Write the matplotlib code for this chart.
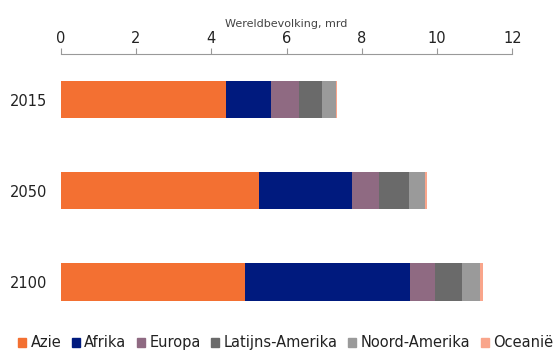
import matplotlib.pyplot as plt
from matplotlib.patches import Patch

years = ['2015', '2050', '2100']
regions = ['Azie', 'Afrika', 'Europa', 'Latijns-Amerika', 'Noord-Amerika', 'Oceanië']
azie = [4.39, 5.27, 4.89]
afrika = [1.19, 2.48, 4.39]
europa = [0.74, 0.71, 0.65]
latijns = [0.63, 0.78, 0.72]
noord = [0.36, 0.43, 0.50]
oceanie = [0.04, 0.06, 0.07]
colors = ['#F37032', '#001A7E', '#8F6A82', '#6A6A6A', '#9A9A9A', '#F9A58B']

series = [azie, afrika, europa, latijns, noord, oceanie]

fig = plt.figure(figsize=(5.57, 3.51), dpi=100)
ax = fig.add_axes([0.109, 0.067, 0.811, 0.779])

left = [0, 0, 0]
for vals, col, name in zip(series, colors, regions):
    ax.barh(years, vals, left=left, color=col, height=0.41, label=name)
    left = [l + v for l, v in zip(left, vals)]

ax.set_xlim(0, 12)
ax.set_ylim(2.5, -0.5)
ax.set_xticks(range(0, 13, 2))
ax.xaxis.tick_top()
ax.xaxis.set_label_position('top')
ax.set_xlabel('Wereldbevolking, mrd', fontsize=8, color='#444444', labelpad=3)
ax.tick_params(axis='x', colors='#999999', labelcolor='#222222', labelsize=10.5,
               length=4, pad=2)
ax.tick_params(axis='y', length=0, labelsize=10.5, labelcolor='#222222', pad=10)
for s in ['left', 'right', 'bottom']:
    ax.spines[s].set_visible(False)
ax.spines['top'].set_color('#999999')

handles = [Patch(color=c, label=r) for c, r in zip(colors, regions)]
fig.legend(handles=handles, loc='lower center', bbox_to_anchor=(0.513, -0.015), ncol=6,
           frameon=False, fontsize=10.5, handlelength=0.55, handleheight=0.55,
           handletextpad=0.3, columnspacing=0.72, labelcolor='#222222',
           borderpad=0.2, borderaxespad=0.2)

fig.savefig('out.png', dpi=100)
